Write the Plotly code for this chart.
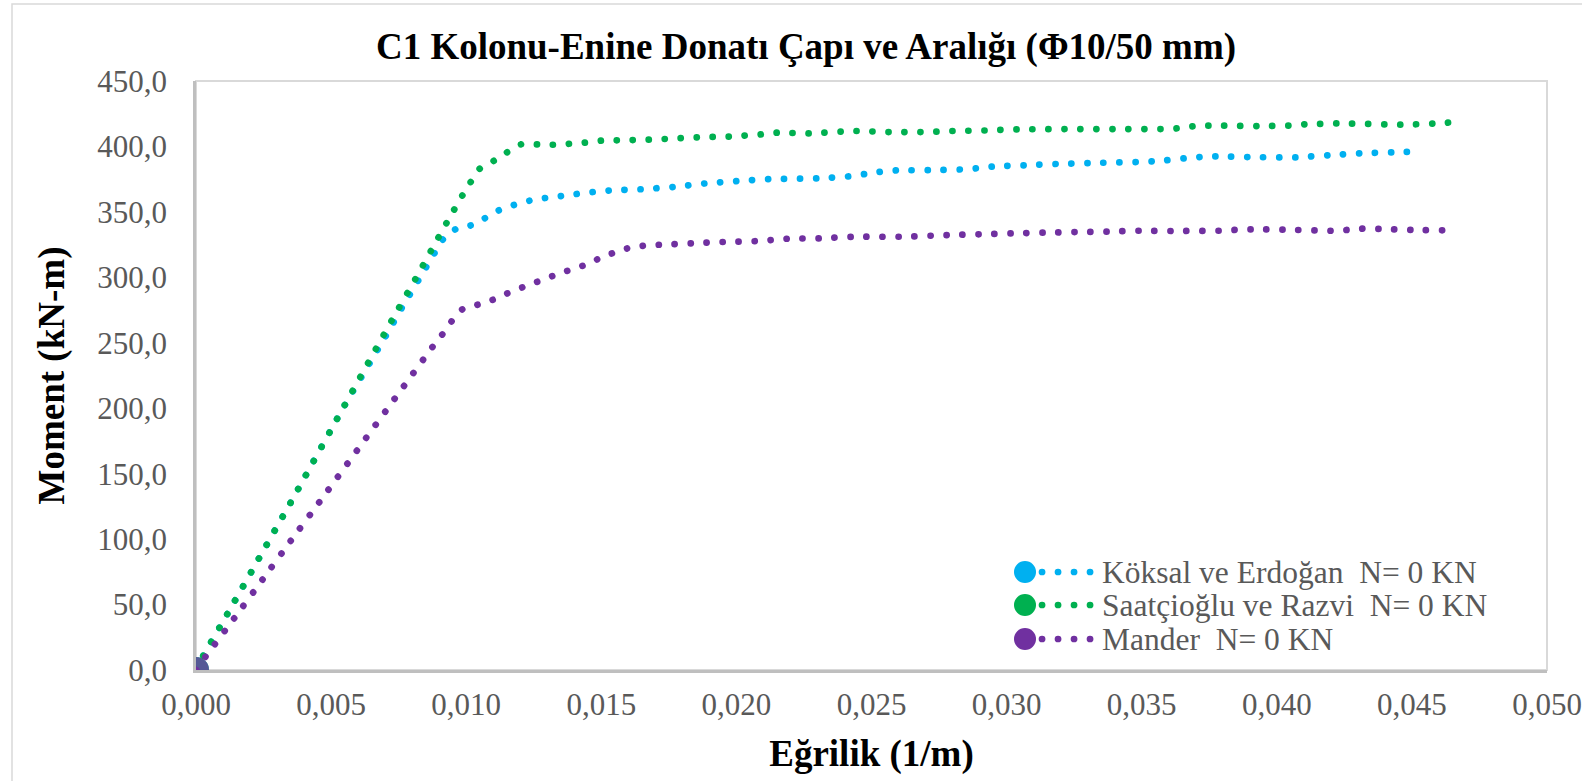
import plotly.graph_objects as go

# ---------------- data ----------------
koksal_x = [0, 0.00027, 0.00116, 0.00233, 0.0035, 0.00544, 0.00702, 0.00762, 0.00823, 0.00883,
            0.00914, 0.0096, 0.01017, 0.0107, 0.01121, 0.01177, 0.01235, 0.01292, 0.01351, 0.01409,
            0.01469, 0.01528, 0.01646, 0.01765, 0.01882, 0.02001, 0.02119, 0.02297, 0.02415, 0.02474,
            0.02534, 0.02592, 0.02711, 0.02829, 0.02888, 0.02947, 0.03065, 0.03184, 0.03301, 0.0348,
            0.03539, 0.03599, 0.03658, 0.03716, 0.03775, 0.03893, 0.04011, 0.0407, 0.0413, 0.0419,
            0.04308, 0.04426, 0.04486]
koksal_y = [0, 10.9, 42.8, 85.3, 127.8, 200, 255, 276.8, 297.7, 318.6,
            329, 336.7, 339.7, 345.3, 351.2, 355.3, 358.6, 360.6, 362.1, 363.7,
            365.2, 366.3, 367.3, 369, 371.7, 373.5, 375, 375.6, 377.1, 378.9,
            380.7, 381.7, 381.9, 382.4, 383.3, 384.6, 385.6, 386.6, 387.3, 388.1,
            388.6, 389.6, 390.9, 391.9, 392.4, 391.9, 391.6, 391.6, 392.4, 393.2,
            394.8, 395.5, 395.8]

saatcioglu_x = [0, 0.00027, 0.00116, 0.00233, 0.0035, 0.00544, 0.00724, 0.00812, 0.0087, 0.00928,
                0.00986, 0.0105, 0.01102, 0.01151, 0.01203, 0.0132, 0.01439, 0.01499, 0.01616, 0.01735,
                0.01854, 0.01972, 0.02091, 0.0215, 0.02268, 0.02387, 0.02445, 0.02564, 0.02681, 0.028,
                0.02919, 0.03038, 0.03215, 0.03393, 0.0357, 0.0363, 0.03689, 0.03748, 0.03926, 0.04044,
                0.04103, 0.04222, 0.04399, 0.04458, 0.04577, 0.04636]
saatcioglu_y = [0, 10.9, 42.8, 85.3, 127.8, 200, 266.9, 298.7, 320.4, 341.8,
                362.6, 383, 389, 395.5, 401.6, 401.3, 402.9, 404.4, 404.9, 405.7,
                407, 407.5, 409.2, 410.5, 410, 411.3, 411.8, 411, 411, 411.8,
                412.2, 413, 413.3, 413.3, 413.3, 413.8, 415.4, 415.9, 415.6, 415.9,
                416.9, 417.6, 416.9, 416.6, 417.4, 418.2]

mander_x = [0, 0.00036, 0.00142, 0.00247, 0.00351, 0.00456, 0.00876, 0.00912, 0.00946, 0.00986,
            0.01043, 0.01099, 0.01153, 0.01209, 0.01264, 0.0132, 0.01375, 0.01432, 0.01486, 0.0154,
            0.01596, 0.01654, 0.01714, 0.01833, 0.0195, 0.02069, 0.02127, 0.02187, 0.02306, 0.02425,
            0.02602, 0.02721, 0.0278, 0.02898, 0.03017, 0.03136, 0.03253, 0.03372, 0.03491, 0.03609,
            0.03786, 0.03845, 0.03905, 0.04023, 0.04141, 0.042, 0.04259, 0.04319, 0.04378, 0.04496,
            0.04615]
mander_y = [0, 10.4, 39.7, 69.3, 98.8, 128.1, 247, 256.5, 266.4, 275.6,
            279.1, 282.9, 287.8, 292.4, 296.7, 301, 305, 308.9, 313.8, 318.3,
            322.1, 324.1, 324.9, 326, 327, 327.6, 328.5, 329.5, 329.8, 331,
            331, 331.8, 332.3, 332.9, 333.6, 334.1, 334.6, 334.9, 335.6, 335.4,
            335.6, 336.2, 336.7, 336.4, 335.9, 335.6, 336.2, 337.2, 337, 336.2,
            335.9]

series_names = ["Köksal ve Erdoğan  N= 0 KN", "Saatçioğlu ve Razvi  N= 0 KN", "Mander  N= 0 KN"]
series_colors = ["#00B0F0", "#00B050", "#7030A0"]

x_ticks = [0, 0.005, 0.01, 0.015, 0.02, 0.025, 0.03, 0.035, 0.04, 0.045, 0.05]
y_ticks = [0, 50, 100, 150, 200, 250, 300, 350, 400, 450]

title_text = "C1 Kolonu-Enine Donatı Çapı ve Aralığı (Φ10/50 mm)"
x_title = "Eğrilik (1/m)"
y_title = "Moment (kN-m)"

# ---------------- layout geometry ----------------
W, H = 1582, 781
L, R, T, B = 196, 1547, 81, 670          # plot area in pixels
FONT = "Liberation Serif, Times New Roman, serif"
GRAY = "#595959"
DOT_W = 6.7
DOT_DASH = "0.1px,15.9px"


def px_x(p):
    return (p - L) / (R - L)


def px_y(p):
    return (B - p) / (B - T)


fig = go.Figure()
for xs, ys, name, col in zip([koksal_x, saatcioglu_x, mander_x],
                             [koksal_y, saatcioglu_y, mander_y],
                             series_names, series_colors):
    fig.add_trace(go.Scatter(
        x=xs, y=ys, name=name, mode="lines+markers",
        line=dict(color=col, width=DOT_W, dash=DOT_DASH, shape="spline", smoothing=0.4),
        marker=dict(color=col, size=[26] + [0] * (len(xs) - 1), line=dict(width=0)),
        showlegend=False, hoverinfo="x+y+name",
    ))

shapes = [
    # outer chart frame
    dict(type="rect", xref="paper", yref="paper", x0=px_x(12), x1=px_x(1700), y0=px_y(900), y1=px_y(4),
         line=dict(color="#D9D9D9", width=1.5), fillcolor="rgba(0,0,0,0)", layer="below"),
    # plot area frame
    dict(type="rect", xref="paper", yref="paper", x0=0, x1=1, y0=0, y1=1,
         line=dict(color="#D9D9D9", width=2), fillcolor="rgba(0,0,0,0)", layer="below"),
]

annotations = []
legend_rows = [572, 605, 639]
for name, col, ry in zip(series_names, series_colors, legend_rows):
    shapes.append(dict(type="circle", xref="paper", yref="paper",
                       x0=px_x(1014), x1=px_x(1036), y0=px_y(ry + 11), y1=px_y(ry - 11),
                       fillcolor=col, line=dict(color=col, width=0)))
    shapes.append(dict(type="line", xref="paper", yref="paper",
                       x0=px_x(1042), x1=px_x(1091), y0=px_y(ry), y1=px_y(ry),
                       line=dict(color=col, width=DOT_W, dash=DOT_DASH)))
    annotations.append(dict(xref="paper", yref="paper", x=px_x(1100), y=px_y(ry),
                            xanchor="left", yanchor="middle", showarrow=False,
                            text=name.replace("  ", "\u00a0 "),
                            font=dict(family=FONT, size=31.5, color=GRAY)))

fig.update_layout(
    width=W, height=H, autosize=False,
    margin=dict(l=L, r=W - R, t=T, b=H - B, pad=0),
    paper_bgcolor="white", plot_bgcolor="white",
    separators=",.",
    showlegend=False,
    title=dict(text=f"<b>{title_text}</b>", x=806 / W, xref="container", xanchor="center",
               y=1 - 46 / H, yref="container", yanchor="middle", automargin=False,
               font=dict(family=FONT, size=37, color="black")),
    font=dict(family=FONT, color=GRAY),
    shapes=shapes,
    annotations=annotations,
)

fig.update_xaxes(
    range=[0, 0.05], tickvals=x_ticks, tickformat=".3f",
    showgrid=False, zeroline=False, automargin=False, layer="below traces",
    showline=True, linecolor="#BFBFBF", linewidth=2.5,
    ticks="", ticklabelstandoff=5, ticklabeloverflow="allow",
    tickfont=dict(family=FONT, size=31, color=GRAY),
    title=dict(text=f"<b>{x_title}</b>", standoff=20,
               font=dict(family=FONT, size=37, color="black")),
)
fig.update_yaxes(
    range=[0, 450], tickvals=y_ticks, tickformat=".1f",
    showgrid=False, zeroline=False, automargin=False, layer="below traces",
    showline=True, linecolor="#BFBFBF", linewidth=2.5,
    ticks="", ticklabelstandoff=20, ticklabeloverflow="allow",
    tickfont=dict(family=FONT, size=31, color=GRAY),
    title=dict(text=f"<b>{y_title}</b>", standoff=22,
               font=dict(family=FONT, size=37, color="black")),
)

post = """
document.body.style.margin = '0';
document.body.style.padding = '0';
function roundCaps(){
  document.querySelectorAll('.scatterlayer path.js-line, .shapelayer path').forEach(function(p){
    p.style.strokeLinecap = 'round';
  });
}
roundCaps();
var gd = document.getElementById('{plot_id}');
if (gd && gd.on) { gd.on('plotly_afterplot', roundCaps); }
"""

fig.write_html("out.html", post_script=post, config={"displayModeBar": False})
